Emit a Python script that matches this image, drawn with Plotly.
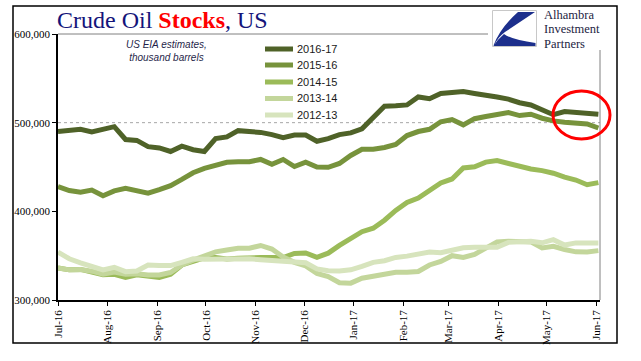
import pandas as pd
import plotly.graph_objects as go

# ---------------- data (thousand barrels) ----------------
weeks = pd.date_range("2016-07-01", periods=49, freq="7D")

s_2016_17 = [490, 491, 492.5, 489.5, 492.5, 495.5, 481, 480, 473, 471.5,
             467.5, 473.5, 469.5, 467.5, 482, 484, 491, 490, 489, 486.5,
             483, 486, 486, 479, 482, 486.5, 488.5, 493, 506, 518.5,
             519, 520, 529, 527, 533, 534, 535, 533, 531.5, 529,
             526.5, 522.5, 520, 515, 509, 512.5, 511.5, 509.5, 509.5]
s_2015_16 = [428, 423.5, 421.5, 424, 417.5, 423, 426, 423.5, 420.5, 424.5,
             429, 436, 443.5, 448.5, 452, 455.3, 456, 456, 458.5, 453,
             458.5, 450.5, 455.5, 450, 449.7, 454, 463, 470, 470, 472,
             475.5, 485.5, 490, 492.5, 501, 503.5, 497.5, 504.5, 507, 509.5,
             511.5, 508, 509.5, 505, 502, 500.5, 499.5, 498.5, 494]
s_2014_15 = [336, 334, 334.5, 331.5, 328.5, 329, 325.5, 328.5, 327.5, 325.5,
             329, 339.5, 343.5, 347.5, 347.8, 346.2, 347, 347.8, 347.8, 347.8,
             347.8, 352.5, 353, 348, 352.8, 361.5, 370, 377, 381, 390,
             401, 410, 415, 423.5, 432, 436.5, 449, 450.3, 455.5, 457.2,
             454, 451, 447.8, 445.9, 443, 438.5, 435.3, 430, 432.4]
s_2013_14 = [336, 334, 334.5, 332.5, 329, 331.5, 329, 329.5, 328.3, 328.3,
             331, 339.5, 345, 349.5, 354.3, 356.3, 358.3, 358.4, 361.5, 357.5,
             348.5, 342.5, 338.5, 330, 326.5, 319.5, 319, 324.5, 326.8, 329.5,
             331.2, 331.3, 332.2, 339.5, 343.5, 350, 348, 351.5, 358.5, 365.5,
             366.2, 366.2, 365.5, 358.7, 360.5, 357, 354.3, 354.2, 355.7]
s_2012_13 = [354, 346.5, 342, 337.5, 334, 336.9, 332, 332.8, 339.5, 339,
             338.8, 342.5, 346.5, 346, 346.3, 347, 347.5, 346.5, 345.5, 344.5,
             344, 343.5, 342, 335, 333, 332.8, 334, 338, 342.5, 344.3,
             348, 349.5, 352, 354, 353.3, 356, 359, 359.5, 358.8, 359.5,
             365, 366.2, 366.2, 364.5, 368, 362, 364.4, 364.4, 364.4]

series_names = ["2016-17", "2015-16", "2014-15", "2013-14", "2012-13"]
series_values = [s_2016_17, s_2015_16, s_2014_15, s_2013_14, s_2012_13]
series_colors = ["#4F6228", "#77933C", "#9BBB59", "#C3D69B", "#D7E4BD"]

y_ticks = [300000, 400000, 500000, 600000]
x_ticks = pd.date_range("2016-07-01", "2017-06-01", freq="MS")
x_ticklabels = [d.strftime("%b-%y") for d in x_ticks]

# ---------------- layout geometry (pixels) ----------------
W, H = 641, 361
PL, PR, PT, PB = 58, 600, 34, 300


def px(x):
    return (x - PL) / (PR - PL)


def py(y):
    return (PB - y) / (PB - PT)


fig = go.Figure()
for name, vals, col in zip(series_names, series_values, series_colors):
    fig.add_trace(go.Scatter(
        x=weeks, y=[v * 1000 for v in vals], mode="lines", name=name,
        line=dict(color=col, width=5), showlegend=False,
        hoverinfo="x+y+name"))

SERIF = "Liberation Serif, Times New Roman, serif"
SANS = "Liberation Sans, Arial, sans-serif"

shapes = []
annotations = []

# dashed gridline at 500,000
shapes.append(dict(type="line", xref="paper", yref="y", x0=0, x1=1,
                   y0=500000, y1=500000, layer="below",
                   line=dict(color="#A6A6A6", width=1, dash="dot")))
# top and right plot frame (gray)
shapes.append(dict(type="line", xref="paper", yref="paper", x0=0, x1=1,
                   y0=1, y1=1, line=dict(color="#808080", width=1)))
shapes.append(dict(type="line", xref="paper", yref="paper", x0=1, x1=1,
                   y0=0, y1=1, line=dict(color="#808080", width=1)))

# manual legend
leg_rows = [49, 65, 82, 98.5, 115]
for name, col, ry in zip(series_names, series_colors, leg_rows):
    shapes.append(dict(type="line", xref="paper", yref="paper",
                       x0=px(265), x1=px(293), y0=py(ry), y1=py(ry),
                       line=dict(color=col, width=5)))
    annotations.append(dict(text=name, xref="paper", yref="paper",
                            x=px(295), y=py(ry), xanchor="left",
                            yanchor="middle", showarrow=False,
                            font=dict(family=SANS, size=11, color="#1a1a1a")))

# red highlight ellipse
shapes.append(dict(type="circle", xref="paper", yref="paper",
                   x0=px(553), x1=px(610), y0=py(139), y1=py(91),
                   line=dict(color="#FF0000", width=3)))

# logo background
shapes.append(dict(type="rect", xref="paper", yref="paper",
                   x0=px(488), x1=px(615), y0=py(50), y1=py(8),
                   fillcolor="white", line=dict(width=0)))
shapes.append(dict(type="rect", xref="paper", yref="paper",
                   x0=px(492.5), x1=px(536.5), y0=py(46.5), y1=py(10.5),
                   fillcolor="white", line=dict(color="#C8C8C8", width=1)))


def path(points):
    s = ""
    for cmd, pts in points:
        s += cmd + " " + " ".join(f"{px(a):.5f},{py(b):.5f}" for a, b in pts) + " "
    return s + "Z"


# logo swoosh (upper)
shapes.append(dict(type="path", xref="paper", yref="paper",
                   path=path([("M", [(518, 12)]), ("L", [(535, 12)]),
                              ("L", [(505, 32)]),
                              ("Q", [(497, 38), (494.5, 45.5)]),
                              ("L", [(493.5, 45.5)]),
                              ("Q", [(500, 28), (518, 12)])]),
                   fillcolor="#1C2F8C", line=dict(width=0)))
# logo swoosh (lower)
shapes.append(dict(type="path", xref="paper", yref="paper",
                   path=path([("M", [(493.5, 46)]), ("L", [(535.5, 46)]),
                              ("L", [(535.5, 43)]),
                              ("Q", [(512, 40), (504, 34)]),
                              ("Q", [(497, 40), (493.5, 46)])]),
                   fillcolor="#1C2F8C", line=dict(width=0)))

for txt, by in zip(["Alhambra", "Investment", "Partners"], [15.5, 29.5, 43.5]):
    annotations.append(dict(text=txt, xref="paper", yref="paper",
                            x=px(542), y=py(by), xanchor="left",
                            yanchor="middle", showarrow=False,
                            height=12, valign="middle",
                            font=dict(family=SERIF, size=12.5, color="#23233F")))

# title
annotations.append(dict(
    text="Crude Oil <b><span style='color:#FF0000'>Stocks</span></b>, US",
    xref="paper", yref="paper", x=px(55), y=py(20), xanchor="left",
    yanchor="middle", showarrow=False,
    font=dict(family=SERIF, size=24, color="#14147A")))

# subtitle
annotations.append(dict(
    text="<i>US EIA estimates,<br>thousand barrels</i>",
    xref="paper", yref="paper", x=px(166), y=py(51), xanchor="center",
    yanchor="middle", showarrow=False, align="center",
    font=dict(family=SANS, size=10, color="#1F1F4A")))

# outer border
shapes.append(dict(type="rect", xref="paper", yref="paper",
                   x0=px(13), x1=px(617), y0=py(343), y1=py(6),
                   line=dict(color="black", width=1.5)))

fig.update_layout(
    width=W, height=H,
    margin=dict(l=PL, r=W - PR, t=PT, b=H - PB, pad=0),
    paper_bgcolor="white", plot_bgcolor="white",
    showlegend=False,
    shapes=shapes, annotations=annotations,
    xaxis=dict(
        range=["2016-07-01", "2017-06-03"],
        tickvals=list(x_ticks), ticktext=x_ticklabels, tickangle=-90,
        showgrid=False, zeroline=False, showline=True,
        linecolor="black", linewidth=1.5, ticks="outside", ticklen=4,
        tickcolor="black", tickfont=dict(family=SERIF, size=11, color="black")),
    yaxis=dict(
        range=[300000, 600000], tickvals=y_ticks, tickformat=",",
        showgrid=False, zeroline=False, showline=True,
        linecolor="black", linewidth=1.5, ticks="outside", ticklen=4,
        tickcolor="black", tickfont=dict(family=SERIF, size=11, color="black")),
)

fig.write_html("out.html",
               config={"displayModeBar": False},
               post_script="document.body.style.margin='0';"
                           "document.body.style.padding='0';")
